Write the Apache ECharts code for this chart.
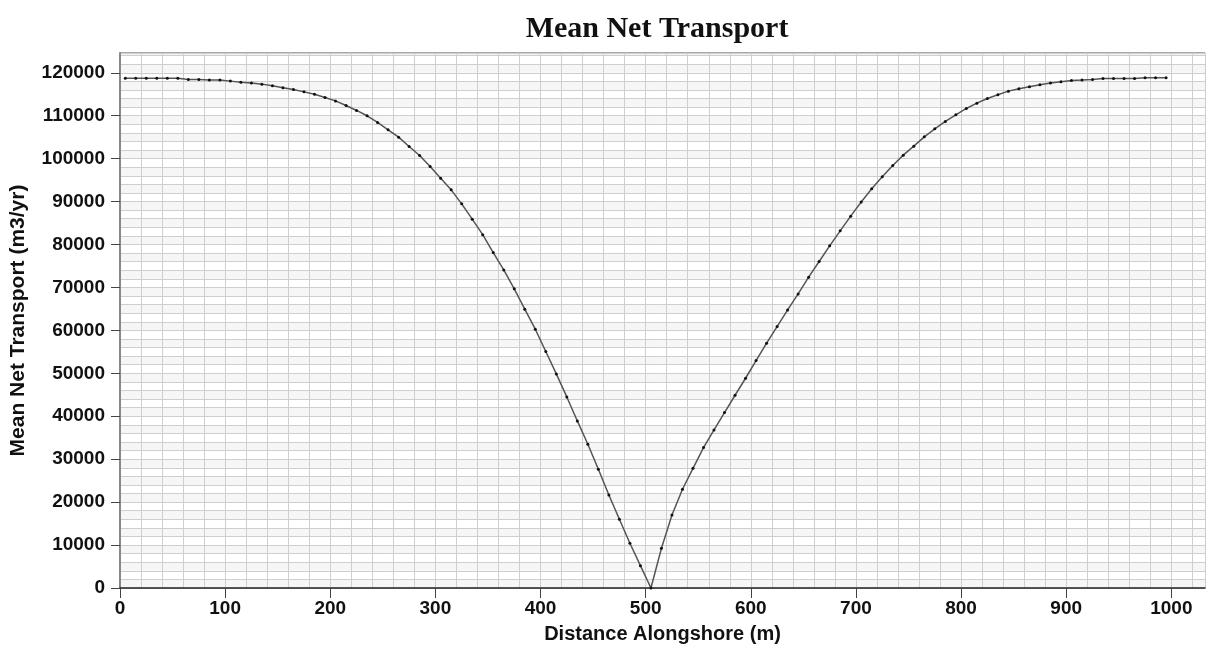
<!DOCTYPE html>
<html>
<head>
<meta charset="utf-8">
<script src="https://cdn.jsdelivr.net/npm/echarts@6/dist/echarts.min.js"></script>
<style>
html,body{margin:0;padding:0;background:#fff;}
#chart{width:1209px;height:650px;}
</style>
</head>
<body>
<div id="chart"></div>
<script>
var distances = [5,15,25,35,45,55,65,75,85,95,105,115,125,135,145,155,165,175,185,195,
205,215,225,235,245,255,265,275,285,295,305,315,325,335,345,355,365,375,385,395,
405,415,425,435,445,455,465,475,485,495,505,515,525,535,545,555,565,575,585,595,
605,615,625,635,645,655,665,675,685,695,705,715,725,735,745,755,765,775,785,795,
805,815,825,835,845,855,865,875,885,895,905,915,925,935,945,955,965,975,985,995];

var transport = [118700,118700,118700,118700,118700,118700,118450,118450,118300,118300,
118050,117800,117600,117350,116950,116500,116100,115550,115000,114250,
113450,112380,111220,109980,108420,106710,105000,102830,100730,98170,
95450,92730,89470,85900,82300,78130,74090,69670,64930,60270,
55070,49860,44500,38910,33470,27650,21670,16000,10410,5200,
0,9250,17010,23000,27880,32700,36810,40850,44890,48850,
52970,57010,60890,64770,68500,72390,76040,79690,83180,86600,
89900,93000,95800,98400,100810,102910,105080,106950,108660,110210,
111680,112920,114010,114870,115720,116270,116730,117200,117590,117900,
118210,118290,118440,118670,118670,118670,118670,118830,118830,118830];

var chartTitle = "Mean Net Transport";
var xTitle = "Distance Alongshore (m)";
var yTitle = "Mean Net Transport (m3/yr)";

var pts = distances.map(function(d, i){ return [d, transport[i]]; });

var chart = echarts.init(document.getElementById('chart'), null, {renderer:'canvas'});
var plain = function(v){ return String(v); };
var labelFont = {fontFamily:'"Liberation Sans", Arial, sans-serif', fontWeight:'bold', fontSize:19, color:'#111', formatter:plain};
var gridLine = {show:true, lineStyle:{color:'#cecece', width:1}};
var nameFont = {fontFamily:'"Liberation Sans", Arial, sans-serif', fontWeight:'bold', fontSize:20, color:'#111'};
chart.setOption({
  animation:false,
  backgroundColor:'#ffffff',
  title:{
    text:chartTitle, left:652, top:9, textAlign:'center',
    textStyle:{fontFamily:'"Liberation Serif", "Times New Roman", serif', fontWeight:'bold', fontSize:30, color:'#111'}
  },
  grid:{left:120, right:4, top:53, bottom:62, show:true, borderColor:'#555', borderWidth:1, backgroundColor:'transparent'},
  xAxis:[{
    type:'value', min:0, max:1032, interval:100,
    axisLine:{show:true, onZero:false, lineStyle:{color:'#222', width:1.5}},
    axisTick:{show:true, length:10, lineStyle:{color:'#444'}},
    axisLabel:Object.assign({margin:11, showMaxLabel:false}, labelFont),
    splitLine:{show:false},
    name:xTitle, nameLocation:'middle', nameGap:36,
    nameTextStyle:nameFont
  },{
    type:'value', min:0, max:1032, interval:20, position:'bottom',
    axisLine:{show:false}, axisTick:{show:false}, axisLabel:{show:false},
    splitLine:gridLine
  }],
  yAxis:[{
    type:'value', min:0, max:124600, interval:10000,
    axisLine:{show:true, onZero:false, lineStyle:{color:'#888', width:2}},
    axisTick:{show:true, length:9, lineStyle:{color:'#444'}},
    axisLabel:Object.assign({margin:15, showMaxLabel:false}, labelFont),
    splitLine:{show:false},
    name:yTitle, nameLocation:'middle', nameGap:91,
    nameTextStyle:Object.assign({}, nameFont, {fontSize:21})
  },{
    type:'value', min:0, max:124600, interval:2000, position:'left',
    axisLine:{show:false}, axisTick:{show:false}, axisLabel:{show:false},
    splitLine:gridLine,
    splitArea:{show:true, areaStyle:{color:['#f6f6f6','#ffffff']}}
  }],
  series:[{
    type:'line', xAxisIndex:0, yAxisIndex:0, data:pts,
    symbol:'circle', symbolSize:3, showSymbol:true,
    lineStyle:{color:'#555', width:1.5},
    itemStyle:{color:'#111', borderWidth:0},
    z:5
  }]
});
</script>
</body>
</html>
